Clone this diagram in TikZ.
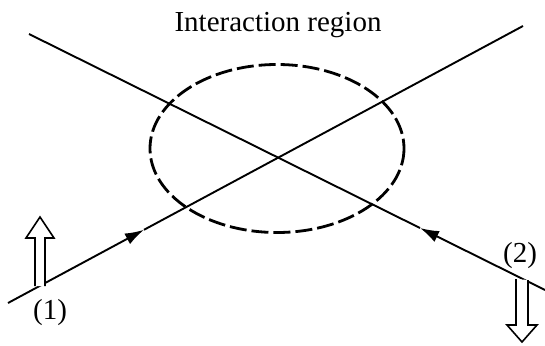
\documentclass[tikz,border=0pt]{standalone}
\usepackage{fontspec}
\setmainfont{Liberation Serif}
\usetikzlibrary{arrows.meta}
\begin{document}
\begin{tikzpicture}[x=1pt,y=-1pt,
  beam/.style={line width=1.9pt},
  region/.style={line width=2.8pt,dash pattern=on 17pt off 5pt},
  hollow/.style={line width=1.6pt,line join=miter,fill=white},
  lbl/.style={font=\fontsize{29}{31}\selectfont,inner sep=0pt}]
\useasboundingbox (0,0) rectangle (545,345);
% beams
\coordinate (a1) at (8,303);
\coordinate (t1) at (144,229.8);
\coordinate (b1) at (523,26);
\coordinate (a2) at (545,290);
\coordinate (t2) at (420,228);
\coordinate (b2) at (29,34);
\draw[beam,-{Latex[length=19pt,width=12pt]}] (a1) -- (t1);
\draw[beam] (t1) -- (b1);
\draw[beam,-{Latex[length=19pt,width=12pt]}] (a2) -- (t2);
\draw[beam] (t2) -- (b2);
% interaction region
\coordinate (c) at (277,148.5);
\draw[region] (c) ellipse [x radius=127, y radius=84];
\node[lbl,anchor=base] (title) at (278,32) {Interaction region};
% hollow arrows
\draw[hollow] (35,286) -- (35,238) -- (26,238) -- (40,217) -- (54,238) -- (45,238) -- (45,286);
\draw[hollow] (516,279) -- (516,325) -- (507,325) -- (522,342) -- (537,325) -- (528,325) -- (528,280);
\node[lbl] (l1) at (50,313) {(1)};
\node[lbl] (l2) at (520,256) {(2)};
\end{tikzpicture}
\end{document}
